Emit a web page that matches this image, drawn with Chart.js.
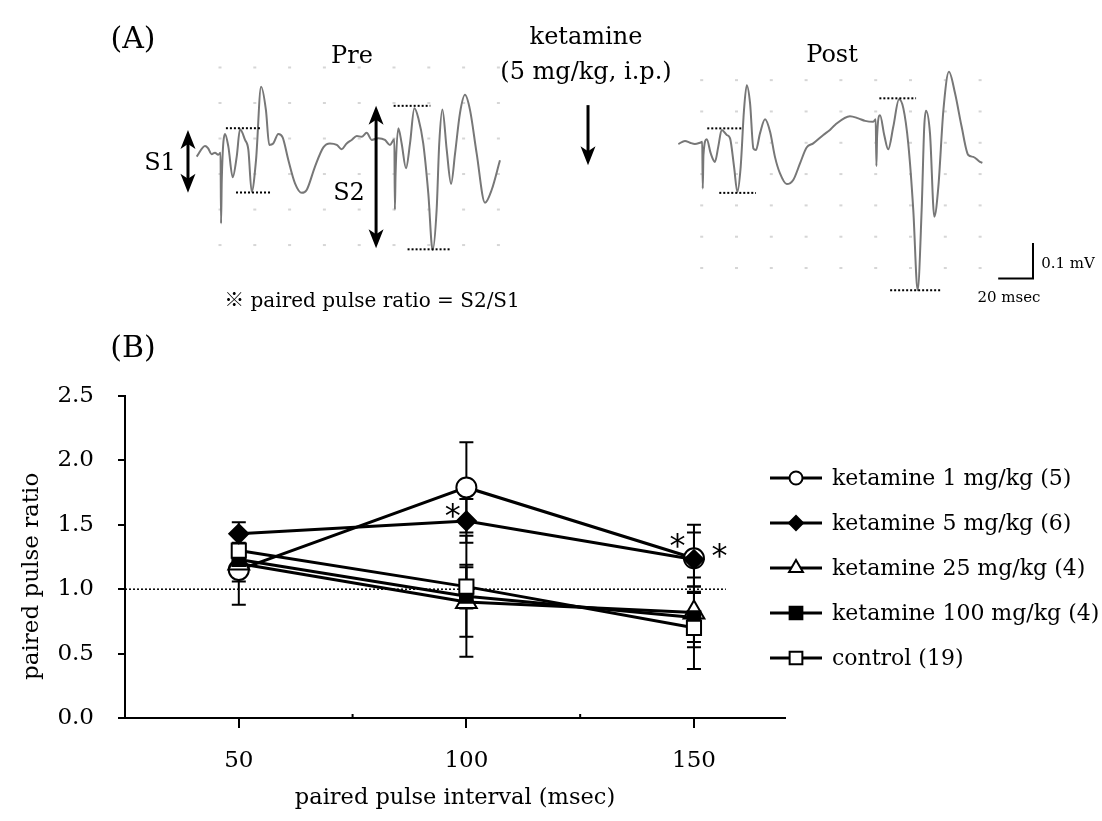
<!DOCTYPE html>
<html>
<head>
<meta charset="utf-8">
<script src="https://cdn.jsdelivr.net/npm/chart.js@4.4.1/dist/chart.umd.min.js"></script>
<style>
  body { margin: 0; background: #fff; width: 1102px; height: 821px; position: relative; overflow: hidden; font-family: 'DejaVu Serif', 'Noto Sans CJK JP', serif; color: #000; }
  canvas { position: absolute; left: 0; }
  #traces { top: 0; }
  #ppr { top: 320px; }
  .lbl { position: absolute; white-space: nowrap; transform: translate(-50%, -50%); font-size: 24px; line-height: 1; z-index: 2; }
  .small { font-size: 15px; }
</style>
</head>
<body>
<canvas id="traces" width="1102" height="320"></canvas>
<canvas id="ppr" width="1102" height="501"></canvas>

<div class="lbl" style="left:133px; top:38px; font-size:30px;">(A)</div>
<div class="lbl" style="left:352px; top:55px;">Pre</div>
<div class="lbl" style="left:586px; top:36px;">ketamine</div>
<div class="lbl" style="left:586px; top:71px;">(5 mg/kg, i.p.)</div>
<div class="lbl" style="left:832px; top:54px;">Post</div>
<div class="lbl" style="left:160px; top:162px;">S1</div>
<div class="lbl" style="left:349px; top:192px;">S2</div>
<div class="lbl" style="left:372px; top:300px; font-size:20px;">※ paired pulse ratio = S2/S1</div>
<div class="lbl small" style="left:1068px; top:263px;">0.1 mV</div>
<div class="lbl small" style="left:1009px; top:297px;">20 msec</div>
<div class="lbl" style="left:133px; top:347px; font-size:30px;">(B)</div>

<script>
"use strict"

// ---- (A) field potential traces: msec from 1st stimulus, mV ----
const preTime = [-13.4, -8.6, -6.9, -4.8, -2.9, -1.0, 0.3, 0.6, 1.0, 2.9, 4.8, 7.3, 9.6, 11.5, 14.4, 16.3, 18.2, 20.7, 23.6, 26.4, 28.3, 30.6, 33.5, 36.0, 39.3, 43.1, 47.0, 49.8, 54.6, 59.4, 63.2, 67.1, 69.9, 72.8, 75.7, 78.6, 81.4, 84.3, 87.2, 91.0, 94.8, 97.7, 100.2, 100.5, 100.9, 102.5, 104.4, 106.9, 109.2, 111.7, 114.0, 116.8, 119.7, 122.2, 124.5, 126.0, 127.8, 130.3, 132.8, 135.1, 137.9, 140.8, 143.7, 147.5, 152.3, 156.1, 160.9];
const preAmp = [0.049, 0.079, 0.073, 0.056, 0.06, 0.054, 0.06, -0.139, -0.02, 0.113, 0.077, -0.009, 0.049, 0.126, 0.096, 0.068, -0.05, 0.039, 0.246, 0.18, 0.082, 0.086, 0.113, 0.103, 0.039, -0.026, -0.053, -0.045, 0.021, 0.075, 0.086, 0.082, 0.07, 0.086, 0.096, 0.107, 0.105, 0.116, 0.096, 0.101, 0.096, 0.082, 0.098, -0.1, 0.0, 0.129, 0.086, 0.016, 0.086, 0.185, 0.157, 0.086, -0.054, -0.214, -0.101, 0.086, 0.182, 0.068, -0.028, 0.058, 0.171, 0.223, 0.18, 0.058, -0.081, -0.045, 0.039];

const postTime = [-13.4, -9.6, -6.7, -3.9, -1.0, 0.3, 0.6, 1.0, 2.9, 5.2, 7.6, 9.5, 11.5, 14.4, 16.3, 18.6, 20.5, 22.4, 24.3, 25.9, 27.8, 29.7, 31.2, 33.5, 36.4, 39.3, 42.1, 45.0, 48.9, 52.6, 56.5, 60.3, 64.1, 69.9, 73.7, 76.6, 85.2, 90.0, 93.9, 98.6, 100.0, 100.4, 100.8, 102.5, 104.9, 107.2, 110.1, 113.4, 115.9, 118.7, 121.6, 124.1, 126.4, 127.9, 128.9, 131.2, 133.7, 136.0, 138.9, 142.1, 145.6, 149.4, 153.2, 156.1, 159.9, 161.3];
const postAmp = [0.096, 0.106, 0.1, 0.096, 0.1, 0.103, -0.046, 0.06, 0.111, 0.066, 0.039, 0.087, 0.141, 0.125, 0.114, 0.023, -0.057, 0.023, 0.204, 0.284, 0.226, 0.082, 0.077, 0.13, 0.175, 0.135, 0.055, 0.002, -0.032, -0.019, 0.034, 0.085, 0.098, 0.125, 0.141, 0.157, 0.185, 0.178, 0.17, 0.167, 0.175, 0.026, 0.12, 0.188, 0.125, 0.079, 0.151, 0.239, 0.21, 0.098, -0.115, -0.371, -0.115, 0.151, 0.202, 0.13, -0.136, -0.041, 0.204, 0.327, 0.258, 0.151, 0.061, 0.055, 0.039, 0.036];

const gridMs = [0, 20, 40, 60, 80, 100, 120, 140, 160];
const preGridMv = [0.3, 0.2, 0.1, 0, -0.1, -0.2];
const postGridMv = [0.3, 0.2, 0.1, 0, -0.1, -0.2, -0.3];

// S1 / S2 peak and trough levels (mV) with their msec span
const preLevels = [[0.129, 3.4, 24.0], [-0.052, 9.2, 29.7], [0.192, 99.8, 120.9], [-0.212, 107.8, 132.8]];
const postLevels = [[0.146, 3.2, 23.9], [-0.060, 10.1, 31.2], [0.242, 102.1, 123.2], [-0.371, 108.3, 138.0]];

// ---- (B) paired pulse ratio ----
const intervals = [50, 100, 150];
const groupNames = ['ketamine 1 mg/kg (5)', 'ketamine 5 mg/kg (6)', 'ketamine 25 mg/kg (4)', 'ketamine 100 mg/kg (4)', 'control (19)'];
const k1Mean = [1.15, 1.79, 1.24];
const k1Sem = [0.27, 0.35, 0.26];
const k5Mean = [1.43, 1.53, 1.23];
const k5Sem = [0.09, 0.17, 0.21];
const k25Mean = [1.20, 0.90, 0.82];
const k25Sem = [0.14, 0.27, 0.27];
const k100Mean = [1.23, 0.945, 0.78];
const k100Sem = [0.10, 0.47, 0.19];
const controlMean = [1.30, 1.02, 0.70];
const controlSem = [0.06, 0.17, 0.32];
const yTicks = [0, 0.5, 1.0, 1.5, 2.0, 2.5];
const xTickLabels = [50, 100, 150];
const xMinorTicks = [75, 125];
const stars = [[97, 1.63], [146.4, 1.40], [155.6, 1.32]];

const serif = "'DejaVu Serif', serif";

// ---------------- panel A ----------------
const pxPerMs = 1.74;
const areaW = 1102;
const preStimPx = 220, postStimPx = 701.7;
const preMin = -preStimPx / pxPerMs, postMin = -postStimPx / pxPerMs;

function drawArrowHead(ctx, x, y, dir) {
  ctx.beginPath();
  ctx.moveTo(x, y);
  ctx.lineTo(x - 7.5, y - dir * 19);
  ctx.lineTo(x, y - dir * 14);
  ctx.lineTo(x + 7.5, y - dir * 19);
  ctx.closePath();
  ctx.fill();
}

const traceAnno = {
  id: 'traceAnno',
  beforeDatasetsDraw(chart) {
    const ctx = chart.ctx, s = chart.scales;
    ctx.save();
    ctx.fillStyle = '#d6d6d6';
    gridMs.forEach(t => {
      preGridMv.forEach(v => ctx.fillRect(s.xPre.getPixelForValue(t) - 1.5, s.yPre.getPixelForValue(v) - 1, 3, 2));
      postGridMv.forEach(v => ctx.fillRect(s.xPost.getPixelForValue(t) - 1.5, s.yPost.getPixelForValue(v) - 1, 3, 2));
    });
    ctx.restore();
  },
  afterDatasetsDraw(chart) {
    const ctx = chart.ctx, s = chart.scales;
    ctx.save();
    // dotted peak / trough levels
    ctx.strokeStyle = '#000';
    ctx.lineWidth = 2;
    ctx.setLineDash([2, 2]);
    const level = (xs, ys) => l => {
      const y = ys.getPixelForValue(l[0]);
      ctx.beginPath();
      ctx.moveTo(xs.getPixelForValue(l[1]), y);
      ctx.lineTo(xs.getPixelForValue(l[2]), y);
      ctx.stroke();
    };
    preLevels.forEach(level(s.xPre, s.yPre));
    postLevels.forEach(level(s.xPost, s.yPost));
    ctx.setLineDash([]);

    // S1, S2 double arrows and the ketamine arrow
    ctx.fillStyle = '#000';
    ctx.lineWidth = 3;
    const vArrow = (t, v1, v2, both) => {
      const x = s.xPre.getPixelForValue(t);
      const y1 = s.yPre.getPixelForValue(v1), y2 = s.yPre.getPixelForValue(v2);
      ctx.beginPath();
      ctx.moveTo(x, both ? y1 + 12 : y1);
      ctx.lineTo(x, y2 - 12);
      ctx.stroke();
      drawArrowHead(ctx, x, y2, 1);
      if (both) drawArrowHead(ctx, x, y1, -1);
    };
    vArrow(-18.4, 0.124, -0.053, true);
    vArrow(89.7, 0.192, -0.209, true);
    vArrow(211.5, 0.194, 0.025, false);

    // scale bar: 20 msec x 0.1 mV
    ctx.lineWidth = 2;
    const bx = s.xPost.getPixelForValue(190.4), by = s.yPre.getPixelForValue(-0.294);
    ctx.beginPath();
    ctx.moveTo(s.xPost.getPixelForValue(190.4 - 20), by);
    ctx.lineTo(bx, by);
    ctx.lineTo(bx, s.yPre.getPixelForValue(-0.194));
    ctx.stroke();
    ctx.restore();
  }
};

new Chart(document.getElementById('traces'), {
  type: 'line',
  data: {
    datasets: [
      { data: preTime.map((t, i) => ({ x: t, y: preAmp[i] })), xAxisID: 'xPre', yAxisID: 'yPre' },
      { data: postTime.map((t, i) => ({ x: t, y: postAmp[i] })), xAxisID: 'xPost', yAxisID: 'yPost' }
    ].map(d => Object.assign(d, { borderColor: '#777', borderWidth: 2, pointRadius: 0, cubicInterpolationMode: 'monotone', fill: false }))
  },
  options: {
    responsive: false, animation: false, devicePixelRatio: 1,
    layout: { padding: 0 },
    plugins: { legend: { display: false }, tooltip: { enabled: false } },
    scales: {
      xPre: { type: 'linear', display: false, min: preMin, max: preMin + areaW / pxPerMs },
      xPost: { type: 'linear', display: false, min: postMin, max: postMin + areaW / pxPerMs },
      yPre: { type: 'linear', display: false, min: -0.411, max: 0.490 },
      yPost: { type: 'linear', display: false, min: -0.466, max: 0.556 }
    }
  },
  plugins: [traceAnno]
});

// ---------------- panel B ----------------
const groups = [
  { mean: k1Mean, sem: k1Sem, style: 'circle', r: 10, lr: 6.5, fill: '#fff', order: 4 },
  { mean: k5Mean, sem: k5Sem, style: 'rectRot', r: 9.5, lr: 7, fill: '#000', order: 0 },
  { mean: k25Mean, sem: k25Sem, style: 'triangle', r: 12, lr: 8, fill: '#fff', order: 3 },
  { mean: k100Mean, sem: k100Sem, style: 'rect', r: 9, lr: 9, fill: '#000', order: 2 },
  { mean: controlMean, sem: controlSem, style: 'rect', r: 10, lr: 9, fill: '#fff', order: 1 }
];

const pprAnno = {
  id: 'pprAnno',
  beforeDatasetsDraw(chart) {
    const ctx = chart.ctx, x = chart.scales.x, y = chart.scales.y;
    ctx.save();
    // reference line at 1.0
    ctx.strokeStyle = '#000';
    ctx.lineWidth = 1.5;
    ctx.setLineDash([2, 2]);
    ctx.beginPath();
    ctx.moveTo(x.getPixelForValue(25), y.getPixelForValue(1));
    ctx.lineTo(x.getPixelForValue(157), y.getPixelForValue(1));
    ctx.stroke();
    ctx.setLineDash([]);
    // SEM bars
    ctx.lineWidth = 2;
    groups.forEach(g => g.mean.forEach((m, i) => {
      const px = x.getPixelForValue(intervals[i]);
      const top = y.getPixelForValue(m + g.sem[i]), bot = y.getPixelForValue(m - g.sem[i]);
      ctx.beginPath();
      ctx.moveTo(px, top); ctx.lineTo(px, bot);
      ctx.moveTo(px - 7, top); ctx.lineTo(px + 7, top);
      ctx.moveTo(px - 7, bot); ctx.lineTo(px + 7, bot);
      ctx.stroke();
    }));
    // minor ticks on the x axis
    ctx.beginPath();
    xMinorTicks.forEach(v => {
      const px = x.getPixelForValue(v);
      ctx.moveTo(px, y.bottom - 4); ctx.lineTo(px, y.bottom);
    });
    ctx.stroke();
    ctx.restore();
  },
  afterDatasetsDraw(chart) {
    const ctx = chart.ctx, x = chart.scales.x, y = chart.scales.y;
    ctx.save();
    ctx.fillStyle = '#000';
    ctx.font = "32px 'DejaVu Sans'";
    ctx.textAlign = 'center';
    ctx.textBaseline = 'alphabetic';
    stars.forEach(st => ctx.fillText('*', x.getPixelForValue(st[0]), y.getPixelForValue(st[1]) + 18));

    // y axis title, centred a little below the middle of the axis as in the figure
    ctx.save();
    ctx.font = '23px ' + serif;
    ctx.textAlign = 'center';
    ctx.textBaseline = 'middle';
    ctx.translate(32, y.getPixelForValue(1.1));
    ctx.rotate(-Math.PI / 2);
    ctx.fillText('paired pulse ratio', 0, 0);
    ctx.restore();

    // legend
    ctx.font = '22px ' + serif;
    ctx.textAlign = 'left';
    ctx.textBaseline = 'middle';
    groups.forEach((g, i) => {
      const ly = 158 + i * 45;
      ctx.strokeStyle = '#000';
      ctx.lineWidth = 3;
      ctx.beginPath();
      ctx.moveTo(770, ly); ctx.lineTo(822, ly);
      ctx.stroke();
      ctx.lineWidth = 2;
      ctx.fillStyle = g.fill;
      Chart.helpers.drawPoint(ctx, { pointStyle: g.style, radius: g.lr, rotation: 0, borderWidth: 2 }, 796, ly);
      ctx.fillStyle = '#000';
      ctx.fillText(groupNames[i], 832, ly + 1);
    });
    ctx.restore();
  }
};

new Chart(document.getElementById('ppr'), {
  type: 'line',
  data: {
    datasets: groups.map((g, i) => ({
      label: groupNames[i],
      data: intervals.map((v, j) => ({ x: v, y: g.mean[j] })),
      order: g.order,
      borderColor: '#000', borderWidth: 3, tension: 0, fill: false,
      pointStyle: g.style, pointRadius: g.r, pointBackgroundColor: g.fill,
      pointBorderColor: '#000', pointBorderWidth: 2
    }))
  },
  options: {
    responsive: false, animation: false, devicePixelRatio: 1,
    layout: { padding: { left: 0, top: 76, right: 317, bottom: 0 } },
    plugins: { legend: { display: false }, tooltip: { enabled: false } },
    scales: {
      x: {
        type: 'linear', min: 25, max: 170,
        afterBuildTicks: sc => { sc.ticks = xTickLabels.map(v => ({ value: v })); },
        afterFit: sc => { sc.height = 103; },
        border: { display: true, color: '#000', width: 2 },
        grid: { drawOnChartArea: false, drawTicks: true, tickLength: 10, color: '#000', lineWidth: 2 },
        ticks: { color: '#000', padding: 19, maxRotation: 0, font: { family: serif, size: 23 } },
        title: { display: true, text: 'paired pulse interval (msec)', color: '#000', font: { family: serif, size: 22.5 }, padding: { top: 0, bottom: 9 } }
      },
      y: {
        type: 'linear', min: 0, max: 2.5,
        afterBuildTicks: sc => { sc.ticks = yTicks.map(v => ({ value: v })); },
        afterFit: sc => { sc.width = 125; },
        border: { display: true, color: '#000', width: 2 },
        grid: { drawOnChartArea: false, drawTicks: true, tickLength: 7, color: '#000', lineWidth: 2 },
        ticks: { color: '#000', padding: 24, callback: v => v.toFixed(1), font: { family: serif, size: 23 } }
      }
    }
  },
  plugins: [pprAnno]
});
</script>
</body>
</html>
